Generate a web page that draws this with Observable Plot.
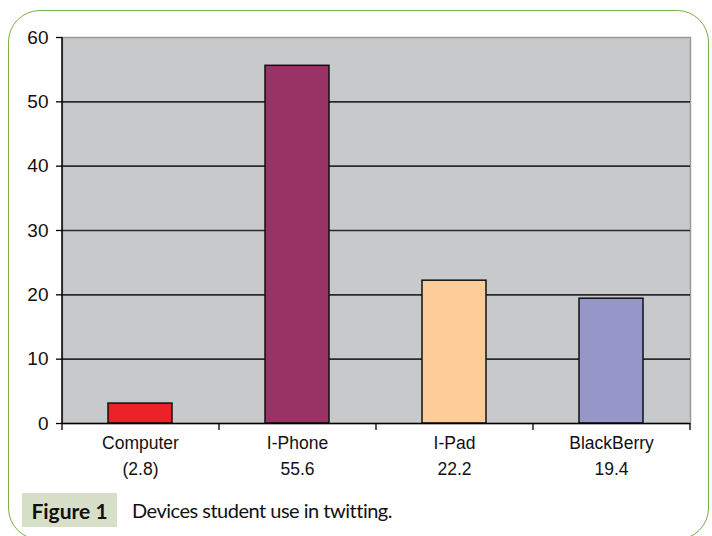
<!DOCTYPE html>
<html>
<head>
<meta charset="utf-8">
<script src="https://cdn.jsdelivr.net/npm/d3@7"></script>
<script src="https://cdn.jsdelivr.net/npm/@observablehq/plot@0.6"></script>
<style>
  html, body { margin: 0; padding: 0; background: #fff; }
  #wrap { position: relative; width: 712px; height: 536px; overflow: hidden; background: #fff; }
  #border { position: absolute; left: 8px; top: 10px; width: 701px; height: 530px;
    border: 1.5px solid #7aae47; border-radius: 32px; box-sizing: border-box; }
  #chart { position: absolute; left: 0; top: 0; }
  #caption { position: absolute; left: 22px; top: 493px; height: 34px; display: flex; align-items: center;
    font-family: Lato, "Open Sans", sans-serif; color: #111; }
  #caption .fig { background: #d7dfc8; height: 34px; width: 95px; display: flex; align-items: center;
    justify-content: center; font-weight: bold; font-size: 21px; }
  #caption .txt { margin-left: 15px; font-size: 20px; letter-spacing: -0.5px; }
</style>
</head>
<body>
<div id="wrap">
  <div id="border"></div>
  <div id="chart"></div>
  <div id="caption"><span class="fig">Figure 1</span><span class="txt">Devices student use in twitting.</span></div>
</div>
<script>
const categories = ["Computer", "I-Phone", "I-Pad", "BlackBerry"];
const shares = [3.1, 55.6, 22.2, 19.4];
const valueLabels = ["(2.8)", "55.6", "22.2", "19.4"];
const barColors = ["#ed2229", "#993366", "#fdcd99", "#9697c9"];
const yTicks = [0, 10, 20, 30, 40, 50, 60];

const data = categories.map((c, i) => ({device: c, share: shares[i]}));
const labelOf = new Map(categories.map((c, i) => [c, c + "\n" + valueLabels[i]]));

const W = 712, H = 480, mL = 62, mR = 22, mT = 37, mB = 57;
const step = (W - mL - mR) / categories.length;
const tickLen = 7 * 60 / (H - mT - mB);

const chart = Plot.plot({
  width: W, height: H,
  marginLeft: mL, marginRight: mR, marginTop: mT, marginBottom: mB,
  style: {fontFamily: "'Liberation Sans', Arial, sans-serif", color: "#111", background: "transparent", overflow: "visible"},
  x: {domain: categories, paddingInner: 0.59, paddingOuter: 0.295, label: null, axis: null},
  y: {domain: [0, 60], label: null, axis: null},
  color: {domain: categories, range: barColors},
  marks: [
    Plot.frame({fill: "#c8c9cb", stroke: "#9a9a9a", strokeWidth: 1.5}),
    Plot.gridY(yTicks.filter(t => t > 0 && t < 60), {stroke: "#2a2a2a", strokeOpacity: 1, strokeWidth: 1.6}),
    Plot.barY(data, {x: "device", y: "share", fill: "device", stroke: "#111", strokeWidth: 1.5}),
    Plot.ruleY([0], {stroke: "#000", strokeWidth: 1.5}),
    Plot.ruleX([categories[0]], {y1: 0, y2: 60, stroke: "#000", strokeWidth: 1.5, dx: -step / 2}),
    Plot.ruleX(categories, {y1: 0, y2: -tickLen, stroke: "#000", strokeWidth: 1.3, dx: -step / 2}),
    Plot.ruleX([categories[categories.length - 1]], {y1: 0, y2: -tickLen, stroke: "#000", strokeWidth: 1.3, dx: step / 2}),
    Plot.axisY(yTicks, {tickSize: 6, tickPadding: 8, fontSize: 19, stroke: "#000", strokeWidth: 1.3, label: null, marginLeft: mL}),
    Plot.axisX({tickSize: 0, tickPadding: 7, fontSize: 17.5, lineHeight: 1.486, tickFormat: d => labelOf.get(d), label: null})
  ]
});
document.getElementById("chart").appendChild(chart);
</script>
</body>
</html>
